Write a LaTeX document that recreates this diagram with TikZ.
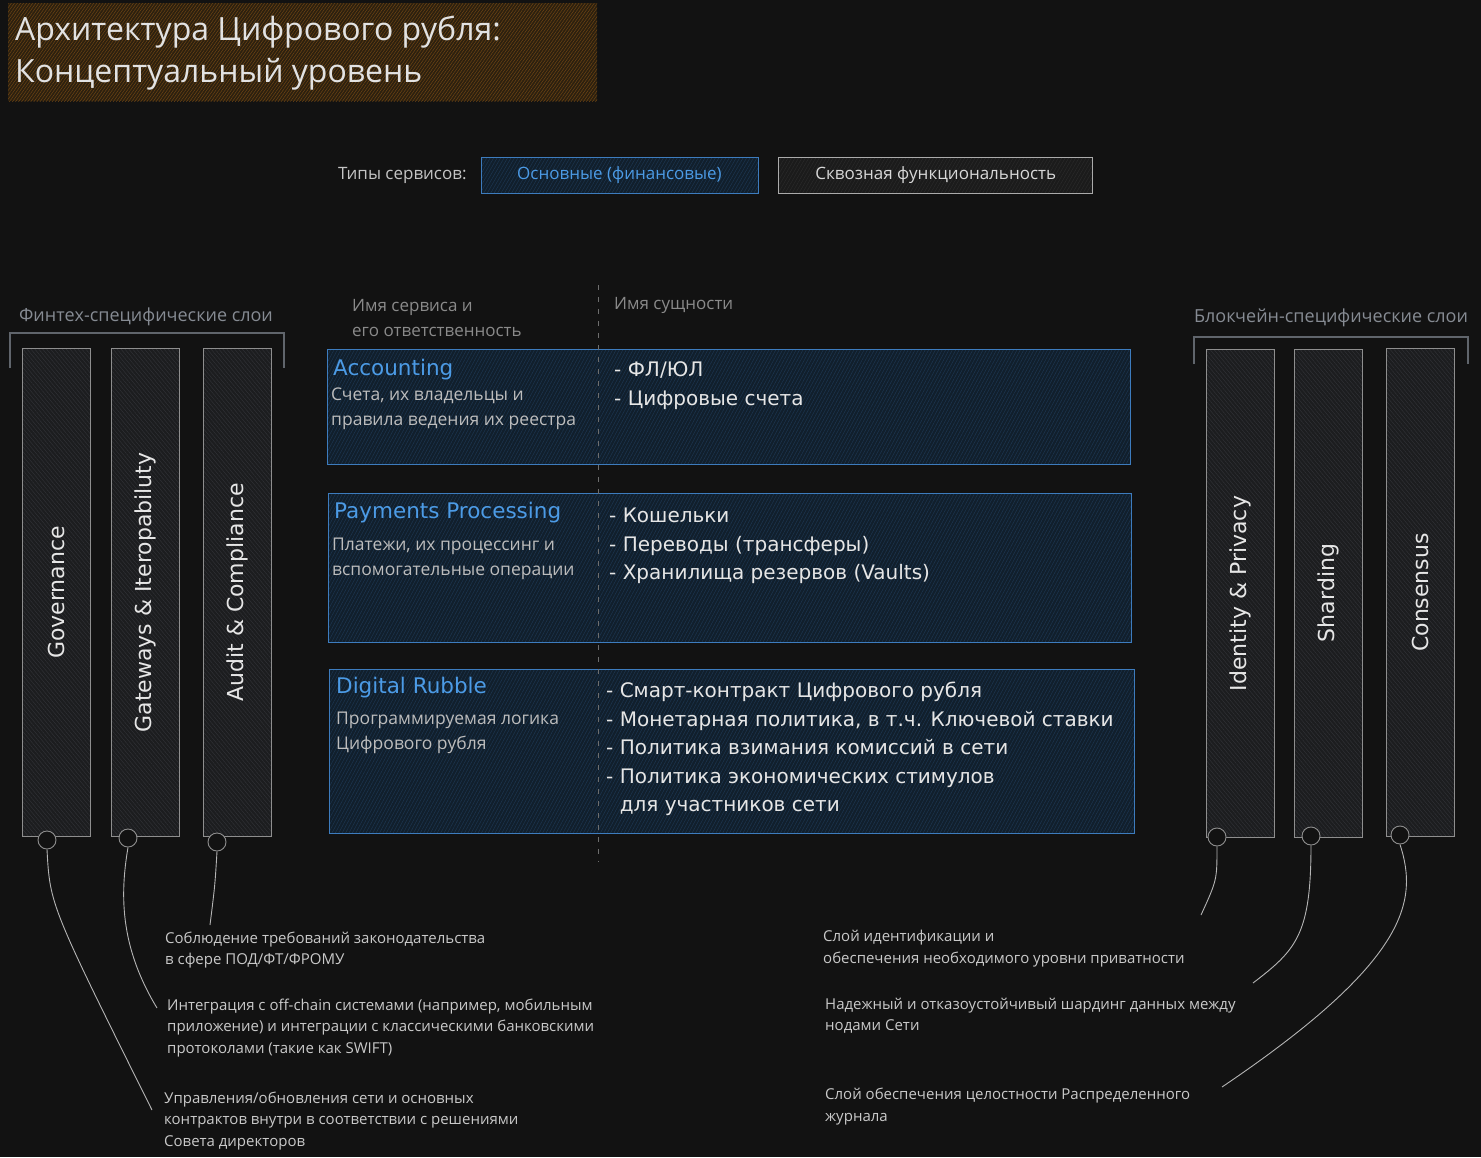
\documentclass[tikz,border=0pt]{standalone}
\usepackage{fontspec}
\usepackage{graphicx}
\setmainfont{Open Sans}
\newfontfamily\handfont{DejaVu Sans}
\usetikzlibrary{patterns.meta}
\usetikzlibrary{positioning}

\definecolor{bgc}{HTML}{121212}
\definecolor{titlefill}{HTML}{2C200F}
\definecolor{titlehatch}{HTML}{6E4514}
\definecolor{titlefg}{HTML}{E2E2E2}
\definecolor{headfg}{HTML}{868B93}
\definecolor{colheadfg}{HTML}{8A8A8A}
\definecolor{typefg}{HTML}{C4C4C4}
\definecolor{bluefill}{HTML}{111F2C}
\definecolor{bluehatch}{HTML}{1D3650}
\definecolor{blueline}{HTML}{3D7CBE}
\definecolor{bluefg}{HTML}{4C9BE6}
\definecolor{greyfill}{HTML}{1B1B1B}
\definecolor{greyhatch}{HTML}{2A2A2A}
\definecolor{greyline}{HTML}{ABABAB}
\definecolor{greyfg}{HTML}{D8D8D8}
\definecolor{pillarfill}{HTML}{1C1D1F}
\definecolor{pillarhatch}{HTML}{303135}
\definecolor{pillarline}{HTML}{8E8E8E}
\definecolor{handfg}{HTML}{E6E6E6}
\definecolor{subfg}{HTML}{BDBDBD}
\definecolor{descfg}{HTML}{C9C9C9}
\definecolor{linkc}{HTML}{B5B5B5}
\definecolor{dashc}{HTML}{6E6E6E}
\definecolor{bracketc}{HTML}{60656C}

\begin{document}
\begin{tikzpicture}[x=1pt,y=-1pt]
\tikzset{title/.style={font=\fontsize{32}{42}\selectfont,text=titlefg,align=left,inner sep=0pt,anchor=west},
  keybox/.style={minimum height=36pt,inner sep=0pt,line width=1pt,font=\fontsize{17}{20}\selectfont},
  keymain/.style={keybox,draw=blueline,preaction={fill=bluefill},pattern={Lines[angle=60,distance=3pt,line width=0.5pt]},pattern color=bluehatch,text=bluefg},
  keycross/.style={keybox,draw=greyline,preaction={fill=greyfill},pattern={Lines[angle=60,distance=3pt,line width=0.5pt]},pattern color=greyhatch,text=greyfg},
  head/.style={font=\fontsize{18}{22}\selectfont,text=headfg,inner sep=0pt},
  bracket/.style={draw=bracketc,line width=1.2pt},
  pillar/.style={draw=pillarline,line width=1pt,preaction={fill=pillarfill},pattern={Lines[angle=-50,distance=3pt,line width=0.5pt]},pattern color=pillarhatch,
    minimum width=68pt,minimum height=488pt,inner sep=0pt,text=handfg,font=\handfont\fontsize{22}{24}\selectfont},
  port/.style={circle,draw=pillarline,fill=bgc,minimum size=18pt,inner sep=0pt,line width=0.9pt},
  link/.style={draw=linkc,line width=0.9pt},
  svcbox/.style={draw=blueline,line width=1pt,preaction={fill=bluefill},pattern={Lines[angle=62,distance=3pt,line width=0.5pt]},pattern color=bluehatch,inner sep=0pt,anchor=north west},
  colhead/.style={font=\fontsize{17}{25}\selectfont,text=colheadfg,anchor=west,align=left,inner sep=0pt},
  svcname/.style={font=\handfont\fontsize{21.5}{24}\selectfont,text=bluefg,anchor=west,inner sep=0pt},
  svcdesc/.style={font=\fontsize{17.5}{25}\selectfont,text=subfg,anchor=west,align=left,inner sep=0pt},
  entity/.style={font=\handfont\fontsize{20}{28.5}\selectfont,text=handfg,anchor=west,align=left,inner sep=0pt},
  desc/.style={font=\fontsize{15}{21.5}\selectfont,text=descfg,anchor=west,align=left,inner sep=0pt}}
\fill[bgc] (0,0) rectangle (1481,1157);
\useasboundingbox (0,0) rectangle (1481,1157);

% title
\fill[preaction={fill=titlefill},pattern={Lines[angle=55,distance=2.5pt,line width=0.5pt]},pattern color=titlehatch] (8,3) rectangle (597,101);
\node[title] (ttl) at (15,53) {Архитектура Цифрового рубля:\\Концептуальный уровень};

% service types
\node[keymain,minimum width=277pt] (kmain) at (619.5,175) {Основные (финансовые)};
\node[keycross,minimum width=314pt] (kcross) [right=20pt of kmain] {Сквозная функциональность};
\node[font=\fontsize{17}{20}\selectfont,text=typefg,inner sep=0pt] (types) [left=14pt of kmain] {Типы сервисов:};

% fintech layers
\node[head] (fthead) at (146,317) {Финтех-специфические слои};
\draw[bracket] (10,368) |- (284,333) -- (284,368);
\node[pillar] (gov) at (56,592.5) {\rotatebox{90}{Governance}};
\node[pillar] (gate) at (145,592.5) {\rotatebox{90}{Gateways \& Iteropabiluty}};
\node[pillar] (audit) at (237.5,592.5) {\rotatebox{90}{Audit \& Compliance}};
\node[port] (govp) at (47,840) {};
\node[port] (gatep) at (128,838) {};
\node[port] (auditp) at (217,842) {};

% blockchain layers
\node[head] (bchead) at (1331,318) {Блокчейн-специфические слои};
\draw[bracket] (1194,364) |- (1468,337) -- (1468,364);
\node[pillar] (idp) at (1240.5,593.5) {\rotatebox{90}{Identity \& Privacy}};
\node[pillar] (shard) at (1328.5,593) {\rotatebox{90}{Sharding}};
\node[pillar] (cons) at (1420.5,592.5) {\rotatebox{90}{Consensus}};
\node[port] (idpp) at (1217,837) {};
\node[port] (shardp) at (1311,836) {};
\node[port] (consp) at (1400,835) {};

% services
\node[colhead] (colsvc) at (352,318) {Имя сервиса и\\его ответственность};
\node[colhead] (colent) at (614,305) {Имя сущности};

\node[svcbox,minimum width=803pt,minimum height=115pt] (accbox) at (327,349) {};
\node[svcname] (acc) at (333,370) {Accounting};
\node[svcdesc] (accd) at (331,409) {Счета, их владельцы и\\правила ведения их реестра};
\node[entity,font=\handfont\fontsize{20}{29}\selectfont] (acce) at (614,386) {- ФЛ/ЮЛ\\- Цифровые счета};

\node[svcbox,minimum width=803pt,minimum height=149pt] (paybox) at (328,493) {};
\node[svcname] (pay) at (334,513) {Payments Processing};
\node[svcdesc] (payd) at (332,559) {Платежи, их процессинг и\\вспомогательные операции};
\node[entity] (paye) at (609,546) {- Кошельки\\- Переводы (трансферы)\\- Хранилища резервов (Vaults)};

\node[svcbox,minimum width=805pt,minimum height=164pt] (drbox) at (329,669) {};
\node[svcname] (dr) at (336,688) {Digital Rubble};
\node[svcdesc] (drd) at (336,733) {Программируемая логика\\Цифрового рубля};
\node[entity] (dre) at (606,749) {- Смарт-контракт Цифрового рубля\\- Монетарная политика, в т.ч. Ключевой ставки\\- Политика взимания комиссий в сети\\- Политика экономических стимулов\\\phantom{- }для участников сети};

\draw[dashc,line width=1pt,dash pattern=on 5pt off 7pt] (598,285) -- (598,862);

% descriptions
\node[desc] (auditd) at (165,950) {Соблюдение требований законодательства\\в сфере ПОД/ФТ/ФРОМУ};
\node[desc] (gated) at (167,1028) {Интеграция с off-chain системами (например, мобильным\\приложение) и интеграции с классическими банковскими\\протоколами (такие как SWIFT)};
\node[desc] (govd) at (164,1121) {Управления/обновления сети и основных\\контрактов внутри в соответствии с решениями\\Совета директоров};
\node[desc] (idpd) at (823,948.5) {Слой идентификации и\\обеспечения необходимого уровни приватности};
\node[desc] (shardd) at (825,1015.5) {Надежный и отказоустойчивый шардинг данных между\\нодами Сети};
\node[desc] (consd) at (825,1106.5) {Слой обеспечения целостности Распределенного\\журнала};

% links
\coordinate (govend) at (152,1110);
\coordinate (gateend) at (157,1008);
\coordinate (auditend) at (210,925);
\coordinate (idpend) at (1201,915);
\coordinate (shardend) at (1253,983);
\coordinate (consend) at (1222,1087);
\draw[link] (govp.south) .. controls (50,905) .. (govend);
\draw[link] (gatep.south) .. controls (119,900) and (122,950) .. (gateend);
\draw[link] (auditp.south) .. controls (215,885) .. (auditend);
\draw[link] (idpp.south) .. controls (1217,880) .. (idpend);
\draw[link] (shardp.south) .. controls (1311,935) and (1296,950) .. (shardend);
\draw[link] (consp.south) .. controls (1418,900) and (1410,960) .. (consend);
\end{tikzpicture}
\end{document}
